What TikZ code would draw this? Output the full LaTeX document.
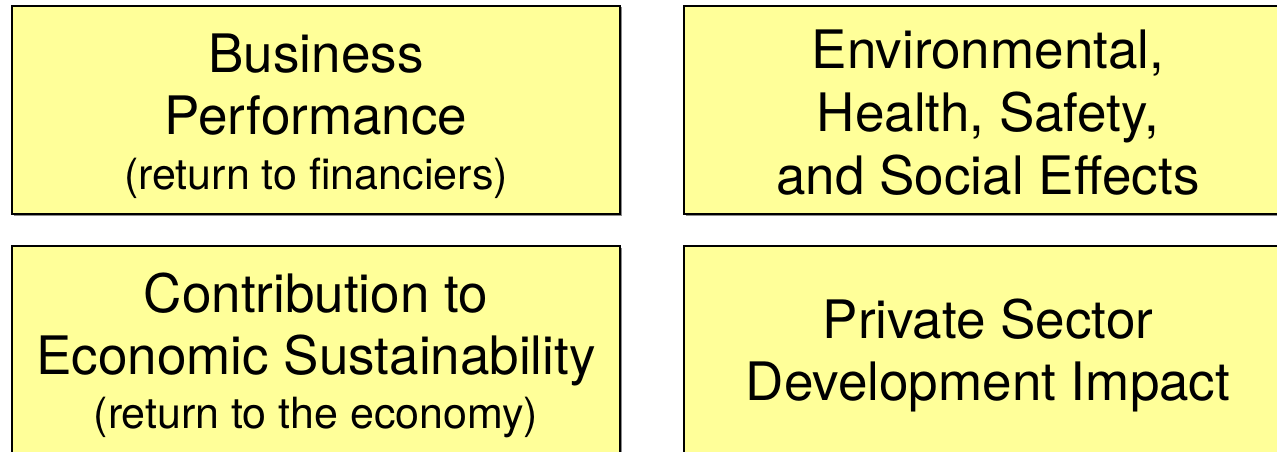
\documentclass[tikz,border=0pt]{standalone}
\usepackage{fontspec}
\setmainfont{TeX Gyre Heros}
\usetikzlibrary{shadows}
\definecolor{boxyellow}{RGB}{255,255,153}

\begin{document}
\begin{tikzpicture}[x=1pt, y=-1pt,
		box/.style={draw=black, line width=2.2pt, fill=boxyellow, inner sep=0pt,
			minimum width=608pt, minimum height=208pt, align=center,
			drop shadow={shadow xshift=1.5pt, shadow yshift=-1.5pt, fill=black!45, opacity=1},
			font=\fontsize{53}{62}\selectfont}]
	\useasboundingbox (0,0) rectangle (1277,452);
	\clip (0,0) rectangle (1277,452);

	\node[box] (perf) at (316,110) {\rule{0pt}{52pt}Business\\Performance\\[-7pt]{\fontsize{43}{62}\selectfont (return to financiers)}};
	\node[box, font=\fontsize{53}{63}\selectfont] (ehs) at (988,110) {\rule{0pt}{43pt}Environmental,\\Health, Safety,\\and Social Effects};
	\node[box, minimum height=218pt] (econ) at (316,355) {Contribution to\\Economic Sustainability\\[-8pt]{\fontsize{43}{62}\selectfont (return to the economy)}};
	\node[box, minimum height=218pt] (psd) at (988,355) {Private Sector\\Development Impact};
\end{tikzpicture}
\end{document}
